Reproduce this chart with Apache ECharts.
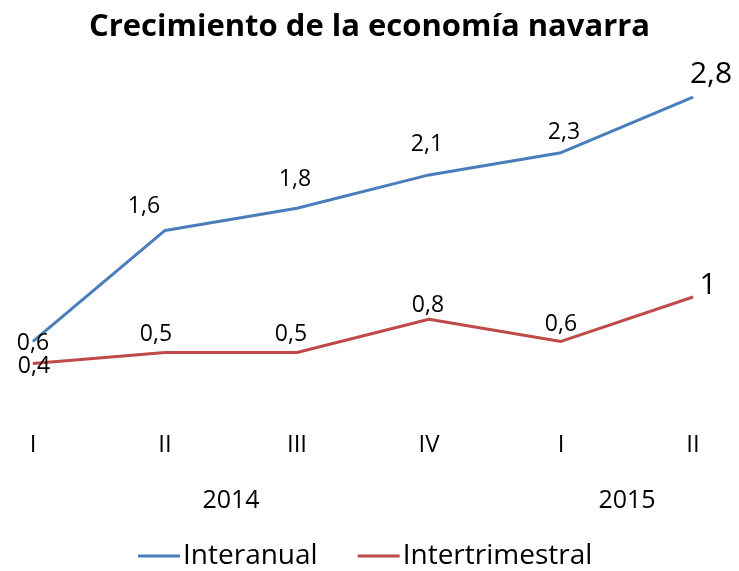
<!DOCTYPE html>
<html>
<head>
<meta charset="utf-8">
<script src="https://cdn.jsdelivr.net/npm/echarts@6/dist/echarts.min.js"></script>
<style>
    html, body { margin: 0; padding: 0; background: #fff; }
    #main { width: 739px; height: 571px; }
</style>
</head>
<body>
<div id="main"></div>
<script>
var quarters = ['I', 'II', 'III', 'IV', 'I', 'II'];
var years = [
    { name: '2014', from: 0, to: 3 },
    { name: '2015', from: 4, to: 5 }
];
var interanual = [0.6, 1.6, 1.8, 2.1, 2.3, 2.8];
var intertrimestral = [0.4, 0.5, 0.5, 0.8, 0.6, 1];

// label nudges (px, relative to the point)
var blueOffsets = [[0, 2], [-21, -24], [-2, -29], [-2, -30], [3, -20], [18, -23]];
var redOffsets = [[1, 3], [-9, -18], [-6, -18], [-1, -14], [0, -17], [15, -12]];

var FONT = '"Open Sans", "Noto Sans", sans-serif';

function buildData(values, offsets) {
    return values.map(function(v, i) {
        var last = i === values.length - 1;
        return {
            value: v,
            label: {
                offset: offsets[i],
                fontSize: last ? 30 : 23
            }
        };
    });
}

function fmt(p) {
    return String(p.value).replace('.', ',');
}

var myChart = echarts.init(document.getElementById('main'));
var option = {
    backgroundColor: '#fff',
    animation: false,
    color: ['#4A7EBB', '#BE4B48'],
    title: {
        text: 'Crecimiento de la economía navarra',
        left: 'center',
        top: 7,
        textStyle: {
            fontFamily: FONT,
            fontWeight: 'bold',
            fontSize: 31,
            color: '#000'
        }
    },
    legend: {
        data: ['Interanual', 'Intertrimestral'],
        left: 133,
        top: 537,
        icon: 'rect',
        itemWidth: 42,
        itemHeight: 3,
        itemGap: 40,
        textStyle: {
            fontFamily: FONT,
            fontSize: 28,
            color: '#000',
            padding: [0, 0, 0, -2]
        }
    },
    grid: {
        left: 33,
        right: 46,
        top: 75,
        bottom: 163
    },
    xAxis: [{
        type: 'category',
        boundaryGap: false,
        data: quarters,
        axisLine: { show: false },
        axisTick: { show: false },
        axisLabel: {
            margin: 25,
            interval: 0,
            fontFamily: FONT,
            fontSize: 24,
            color: '#000'
        }
    }, {
        type: 'value',
        position: 'bottom',
        min: 0,
        max: 5,
        interval: 0.5,
        axisLine: { show: false },
        axisTick: { show: false },
        splitLine: { show: false },
        axisLabel: {
            margin: 80,
            fontFamily: FONT,
            fontSize: 25,
            color: '#000',
            formatter: function(v) {
                for (var i = 0; i < years.length; i++) {
                    if (Math.abs((years[i].from + years[i].to) / 2 - v) < 1e-6) {
                        return years[i].name;
                    }
                }
                return '';
            }
        }
    }],
    yAxis: {
        type: 'value',
        min: 0,
        max: 3,
        show: false
    },
    series: [{
        name: 'Interanual',
        type: 'line',
        data: buildData(interanual, blueOffsets),
        symbol: 'circle',
        symbolSize: 1,
        lineStyle: { width: 3 },
        label: {
            show: true,
            position: 'inside',
            fontFamily: FONT,
            color: '#000',
            formatter: fmt
        }
    }, {
        name: 'Intertrimestral',
        type: 'line',
        data: buildData(intertrimestral, redOffsets),
        symbol: 'circle',
        symbolSize: 1,
        lineStyle: { width: 3 },
        label: {
            show: true,
            position: 'inside',
            fontFamily: FONT,
            color: '#000',
            formatter: fmt
        }
    }]
};
myChart.setOption(option);
</script>
</body>
</html>
